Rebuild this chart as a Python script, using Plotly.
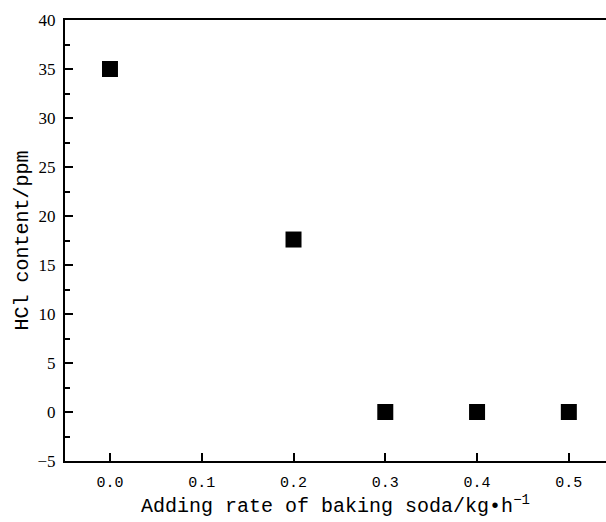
import plotly.graph_objects as go

rate = [0.0, 0.2, 0.3, 0.4, 0.5]
hcl = [35.0, 17.6, 0.0, 0.0, 0.0]
x_ticks = [0.0, 0.1, 0.2, 0.3, 0.4, 0.5]
x_ticktext = ["0.0", "0.1", "0.2", "0.3", "0.4", "0.5"]
y_ticks = [-5, 0, 5, 10, 15, 20, 25, 30, 35, 40]

fig = go.Figure()
fig.add_trace(go.Scatter(
    x=rate, y=hcl, mode="markers",
    marker=dict(symbol="square", size=16, color="black", line=dict(width=0)),
    showlegend=False,
))

fig.update_layout(
    width=606, height=522,
    margin=dict(l=65, r=0, t=20, b=61),
    paper_bgcolor="white", plot_bgcolor="white",
)
fig.update_xaxes(
    range=[-0.049, 0.5405],
    tickmode="array", tickvals=x_ticks, ticktext=x_ticktext,
    ticks="inside", ticklen=8, tickwidth=1.5, tickcolor="black",
    showline=True, linecolor="black", linewidth=2, mirror=True,
    showgrid=False, zeroline=False,
    tickfont=dict(family="Liberation Mono", size=15, color="black"),
    ticklabelstandoff=6,
    title=dict(text="Adding rate of baking soda/kg\u2022h<sup>\u22121</sup>",
               font=dict(family="Liberation Mono", size=20, color="black"),
               standoff=6),
)
fig.update_yaxes(
    range=[-5, 40],
    tickmode="array", tickvals=y_ticks,
    ticks="inside", ticklen=8, tickwidth=1.5, tickcolor="black",
    minor=dict(ticks="inside", ticklen=5, tickwidth=1.5, tickcolor="black", dtick=2.5, tick0=0),
    showline=True, linecolor="black", linewidth=2, mirror=False,
    showgrid=False, zeroline=False,
    tickfont=dict(family="Liberation Serif", size=17, color="black"),
    ticklabelstandoff=4,
    title=dict(text="HCl content/ppm",
               font=dict(family="Liberation Mono", size=20, color="black"),
               standoff=4),
)

fig.write_html("out.html")
